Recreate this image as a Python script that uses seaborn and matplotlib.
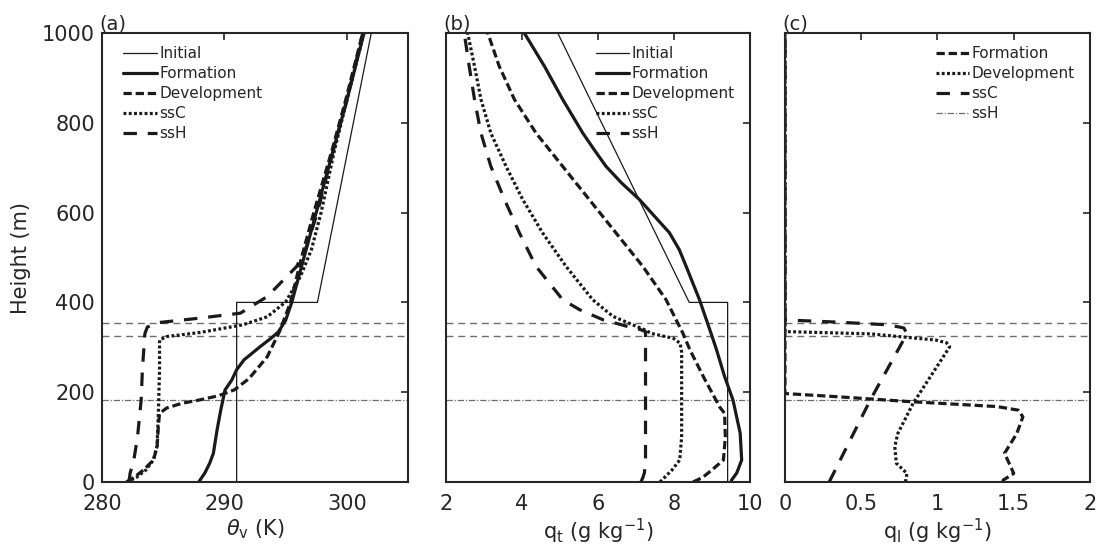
import numpy as np
import pandas as pd
import matplotlib
matplotlib.use("Agg")
import matplotlib.pyplot as plt
import seaborn as sns

# ---------------- data ----------------
# Panel (a): virtual potential temperature (K) vs height (m)
init_a_h = [0, 400, 400, 1000]
init_a_v = [291.0, 291.0, 297.6, 302.0]

form_a_h = [0, 20, 42, 64, 116, 160, 205, 227, 250, 272, 301, 320, 334, 360, 400, 500, 600,
            740, 850, 1000]
form_a_v = [287.9, 288.4, 288.8, 289.1, 289.4, 289.7, 290.05, 290.6, 291.0, 291.6, 292.9,
            293.8, 294.4, 295.0, 295.5, 296.5, 297.5, 298.9, 300.0, 301.4]

dev_a_h = [0, 10, 27, 49, 78, 122, 153, 165, 175, 183, 192, 205, 230, 279, 335, 400, 500,
           600, 740, 850, 1000]
dev_a_v = [282.0, 282.6, 283.4, 284.2, 284.5, 284.6, 284.7, 285.3, 286.5, 288.0, 289.5,
           290.8, 292.0, 293.5, 294.5, 295.4, 296.3, 297.3, 298.8, 299.9, 301.3]

ssc_a_h = [0, 10, 27, 49, 80, 150, 250, 316, 324, 333, 350, 368, 401, 457, 517, 600, 740,
           850, 1000]
ssc_a_v = [282.0, 282.8, 283.6, 284.2, 284.5, 284.6, 284.7, 284.7, 285.3, 288.0, 291.5,
           293.5, 295.0, 296.2, 297.1, 297.9, 299.0, 300.0, 301.4]

ssh_a_h = [0, 20, 49, 100, 183, 250, 330, 345, 355, 365, 376, 413, 480, 524, 600, 740,
           850, 1000]
ssh_a_v = [282.2, 282.3, 282.6, 282.9, 283.2, 283.3, 283.5, 283.7, 284.6, 288.0, 291.3,
           293.5, 295.9, 296.7, 297.6, 298.9, 300.0, 301.3]

# Panel (b): total water mixing ratio (g/kg) vs height (m)
init_b_h = [0, 400, 400, 1000]
init_b_v = [9.41, 9.41, 8.40, 4.94]

form_b_h = [0, 5, 20, 49, 109, 183, 235, 294, 332, 406, 480, 517, 555, 629, 666, 703, 740,
            777, 852, 926, 1000]
form_b_v = [9.50, 9.52, 9.65, 9.78, 9.74, 9.55, 9.33, 9.12, 8.97, 8.67, 8.32, 8.14, 7.88,
            7.09, 6.62, 6.21, 5.90, 5.60, 5.07, 4.59, 4.06]

dev_b_h = [0, 10, 27, 49, 100, 153, 167, 183, 230, 294, 332, 362, 406, 480, 555, 629, 703,
           777, 852, 926, 1000]
dev_b_v = [8.50, 8.75, 9.00, 9.30, 9.35, 9.33, 9.20, 9.10, 8.80, 8.42, 8.23, 8.05, 7.79,
           7.18, 6.47, 5.77, 5.07, 4.37, 3.80, 3.40, 3.10]

ssc_b_h = [0, 10, 27, 49, 100, 200, 290, 309, 320, 331, 340, 347, 369, 406, 480, 555, 629,
           703, 777, 852, 926, 1000]
ssc_b_v = [7.63, 7.75, 7.95, 8.15, 8.20, 8.20, 8.20, 8.16, 7.98, 7.40, 7.20, 7.00, 6.39,
           5.86, 5.16, 4.54, 4.02, 3.58, 3.18, 2.92, 2.75, 2.57]

ssh_b_h = [0, 10, 20, 50, 150, 250, 335, 340, 347, 353, 361, 384, 406, 480, 555, 629, 703,
           777, 852, 926, 1000]
ssh_b_v = [7.13, 7.18, 7.22, 7.25, 7.25, 7.25, 7.25, 7.10, 6.75, 6.50, 6.14, 5.51, 5.07,
           4.37, 3.93, 3.54, 3.18, 2.92, 2.75, 2.61, 2.48]

# Panel (c): liquid water mixing ratio (g/kg) vs height (m)
form_c_h = [0, 4, 19, 64, 108, 145, 160, 168, 179, 190, 197, 1000]
form_c_v = [1.43, 1.43, 1.50, 1.44, 1.52, 1.56, 1.53, 1.39, 0.82, 0.34, 0.0, 0.0]

dev_c_h = [0, 19, 42, 79, 108, 175, 301, 310, 316, 330, 335, 1000]
dev_c_v = [0.79, 0.80, 0.73, 0.72, 0.74, 0.84, 1.08, 1.06, 0.99, 0.56, 0.0, 0.0]

ssc_c_h = [0, 183, 330, 343, 350, 356, 361, 1000]
ssc_c_v = [0.29, 0.56, 0.80, 0.78, 0.68, 0.35, 0.0, 0.0]

# Reference heights (m)
ref_dashed = [355, 326]
ref_dashdot = [182]

# Axis settings
xlim_a, xticks_a = (280, 305), [280, 290, 300]
xlim_b, xticks_b = (2, 10), [2, 4, 6, 8, 10]
xlim_c, xticks_c = (0, 2), [0, 0.5, 1, 1.5, 2]
xticklabels_c = ["0", "0.5", "1", "1.5", "2"]
yticks = [0, 200, 400, 600, 800, 1000]

# ---------------- styling ----------------
sns.set_theme(style="white")
plt.rcParams["font.family"] = ["DejaVu Sans"]
TXT = "#262626"
plt.rcParams.update({
    "axes.edgecolor": "#262626",
    "axes.linewidth": 1.5,
    "xtick.color": TXT, "ytick.color": TXT,
    "text.color": TXT, "axes.labelcolor": TXT,
    "xtick.direction": "in", "ytick.direction": "in",
    "xtick.major.size": 5, "ytick.major.size": 5,
    "xtick.major.width": 1.2, "ytick.major.width": 1.2,
    "xtick.top": True, "ytick.right": True,
    "mathtext.fontset": "dejavusans",
})

LW = 2.3
S_INIT = dict(color="k", lw=0.9, linestyle="-")
S_FORM = dict(color="k", lw=LW, linestyle="-")
S_DEV = dict(color="k", lw=LW, linestyle=(0, (2.6, 1.2)))
S_SSC = dict(color="k", lw=LW, linestyle=(0, (0.9, 0.75)))
S_SSH = dict(color="k", lw=LW, linestyle=(0, (4.2, 3.4)))
REF_COL = "#6e6e6e"

fig = plt.figure(figsize=(10.98, 5.53), dpi=100)
bot, hgt = 0.1284, 0.8119
ax_a = fig.add_axes([0.0929, bot, 0.2787, hgt])
ax_b = fig.add_axes([0.4062, bot, 0.2769, hgt])
ax_c = fig.add_axes([0.7149, bot, 0.2778, hgt])


def prof(ax, xv, hv, label, style):
    df = pd.DataFrame({"x": xv, "h": hv})
    sns.lineplot(data=df, x="x", y="h", sort=False, estimator=None, ax=ax,
                 label=label, **style)


def refs(ax, dd_label=None):
    for r in ref_dashed:
        ax.axhline(r, color=REF_COL, lw=1.0, linestyle=(0, (5, 3.5)), zorder=1)
    for r in ref_dashdot:
        ax.axhline(r, color=REF_COL, lw=0.9, linestyle=(0, (5, 1.5, 1, 1.5)),
                   zorder=1, label=dd_label)


# (a)
prof(ax_a, init_a_v, init_a_h, "Initial", S_INIT)
prof(ax_a, form_a_v, form_a_h, "Formation", S_FORM)
prof(ax_a, dev_a_v, dev_a_h, "Development", S_DEV)
prof(ax_a, ssc_a_v, ssc_a_h, "ssC", S_SSC)
prof(ax_a, ssh_a_v, ssh_a_h, "ssH", S_SSH)
refs(ax_a)

# (b)
prof(ax_b, init_b_v, init_b_h, "Initial", S_INIT)
prof(ax_b, form_b_v, form_b_h, "Formation", S_FORM)
prof(ax_b, dev_b_v, dev_b_h, "Development", S_DEV)
prof(ax_b, ssc_b_v, ssc_b_h, "ssC", S_SSC)
prof(ax_b, ssh_b_v, ssh_b_h, "ssH", S_SSH)
refs(ax_b)

# (c)
prof(ax_c, form_c_v, form_c_h, "Formation", S_DEV)
prof(ax_c, dev_c_v, dev_c_h, "Development", S_SSC)
prof(ax_c, ssc_c_v, ssc_c_h, "ssC", S_SSH)
refs(ax_c, dd_label="ssH")

FS = 15
for ax, xl, xt, lab in [(ax_a, xlim_a, xticks_a, "(a)"),
                        (ax_b, xlim_b, xticks_b, "(b)"),
                        (ax_c, xlim_c, xticks_c, "(c)")]:
    ax.set_xlim(*xl)
    ax.set_ylim(0, 1000)
    ax.set_xticks(xt)
    ax.set_yticks(yticks)
    ax.tick_params(axis="x", labelsize=FS, pad=9)
    ax.tick_params(axis="y", labelsize=FS, pad=5)
    ax.text(-0.01, 1.0, lab, transform=ax.transAxes, ha="left", va="bottom", fontsize=14)
    for s in ax.spines.values():
        s.set_visible(True)
        s.set_zorder(5)

ax_c.set_xticklabels(xticklabels_c)
ax_b.set_yticklabels([])
ax_c.set_yticklabels([])

ax_a.set_ylabel("Height (m)", fontsize=FS, labelpad=8)
ax_b.set_ylabel("")
ax_c.set_ylabel("")
ax_a.set_xlabel(r"$\theta_{\mathrm{v}}$ (K)", fontsize=FS, labelpad=2)
ax_b.set_xlabel(r"q$_\mathrm{t}$ (g kg$^{-1}$)", fontsize=FS, labelpad=2)
ax_c.set_xlabel(r"q$_\mathrm{l}$ (g kg$^{-1}$)", fontsize=FS, labelpad=2)

leg_kw = dict(frameon=False, fontsize=11, handlelength=2.2, handletextpad=0.15,
              labelspacing=0.33, borderaxespad=0.3)
ax_a.legend(loc="upper left", bbox_to_anchor=(0.035, 0.995), **leg_kw)
ax_b.legend(loc="upper right", bbox_to_anchor=(0.985, 0.995), **leg_kw)
ax_c.legend(loc="upper right", bbox_to_anchor=(0.985, 0.995), **leg_kw)

fig.savefig("out.png", dpi=100)
